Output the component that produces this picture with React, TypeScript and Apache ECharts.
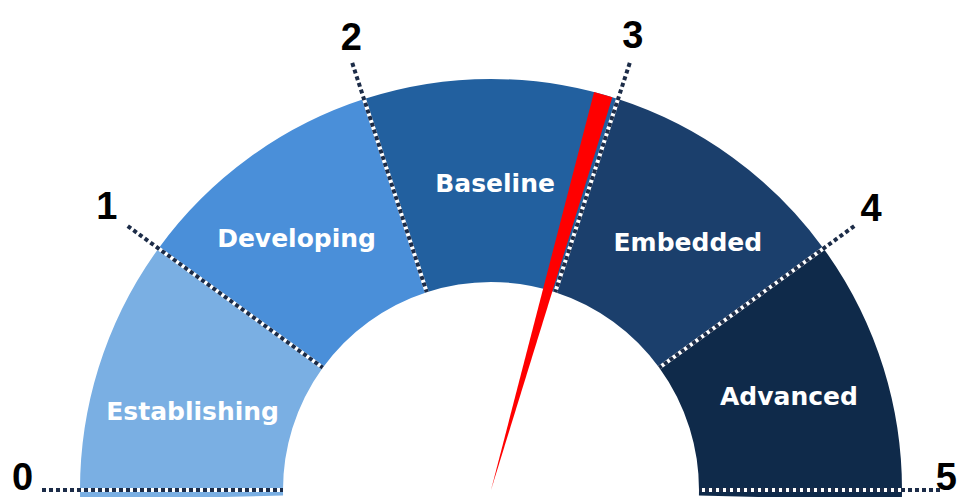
import React, { useEffect, useRef } from 'react';
import * as echarts from 'echarts';

// ---- data ----
const levels = ['Establishing', 'Developing', 'Baseline', 'Embedded', 'Advanced'];
const levelBounds = [0, 1, 2, 3, 4, 5];
const tickLabels = ['0', '1', '2', '3', '4', '5'];
const levelColors = ['#7aafe3', '#4a8fd9', '#22609f', '#1b3f6c', '#0f2a4a'];
const score = 2.94;

// ---- layout (kept apart from data) ----
const CX = 491;
const CY = 490;
const R = 411;
const R_IN = 208;
const EXT_DEG = 1.5;
const titleOffsets: [string, string][] = [
  ['-72.6%', '-19.1%'],
  ['-47.3%', '-61.3%'],
  ['1%', '-74.6%'],
  ['47.9%', '-60.1%'],
  ['72.5%', '-22.7%'],
];
// [top, right, bottom, left]
const tickPads = [
  [0, 0, 26, 20],
  [18, 0, 0, 9],
  [3, 0, 0, 29],
  [0, 25, 0, 0],
  [22, 13, 0, 0],
  [0, 33, 26, 0],
];
const LABEL_R = 519;

const MIN = levelBounds[0];
const MAX = levelBounds[levelBounds.length - 1];

export default function App() {
  const ref = useRef<HTMLDivElement>(null);
  useEffect(() => {
    if (!ref.current) return;
    const chart = echarts.init(ref.current, undefined, { renderer: 'svg' });
    const span = MAX - MIN;
    const ext = (EXT_DEG / 180) * span;
    const bMin = MIN - ext;
    const bMax = MAX + ext;
    const stops = levelColors.map((c, i) => [
      i === levelColors.length - 1 ? 1 : (levelBounds[i + 1] - bMin) / (bMax - bMin),
      c,
    ]);
    const hidden = {
      axisTick: { show: false },
      axisLabel: { show: false },
      splitLine: { show: false },
      pointer: { show: false },
      anchor: { show: false },
      detail: { show: false },
      title: { show: false },
    };
    const base = {
      type: 'gauge',
      center: [CX, CY],
      radius: R,
      startAngle: 180,
      endAngle: 0,
      min: MIN,
      max: MAX,
      splitNumber: levels.length,
      axisLine: { show: false, lineStyle: { width: 0 } },
    };
    const rich: any = {};
    tickLabels.forEach((t, i) => {
      rich['l' + i] = {
        fontSize: 38,
        fontWeight: 'bold',
        fontFamily: '"Liberation Sans", Arial, sans-serif',
        color: '#000',
        lineHeight: 40,
        padding: tickPads[i],
      };
    });
    chart.setOption({
      animation: false,
      backgroundColor: '#fff',
      series: [
        {
          ...base,
          ...hidden,
          z: 1,
          startAngle: 180 + EXT_DEG,
          endAngle: -EXT_DEG,
          min: bMin,
          max: bMax,
          axisLine: { show: true, lineStyle: { width: R - R_IN, color: stops } },
          data: [],
        },
        {
          ...base,
          ...hidden,
          z: 2,
          splitLine: {
            show: true,
            length: 241,
            distance: -38,
            lineStyle: { color: '#ffffff', width: 4 },
          },
          data: [],
        },
        {
          ...base,
          ...hidden,
          z: 3,
          splitLine: {
            show: true,
            length: 241,
            distance: -38,
            lineStyle: { color: '#1c2c48', width: 4, type: [4, 3] },
          },
          data: [],
        },
        {
          ...base,
          ...hidden,
          z: 4,
          axisLabel: {
            show: true,
            distance: R - LABEL_R,
            formatter: (v: number) => {
              const i = levelBounds.indexOf(Math.round(v));
              return `{l${i}|${tickLabels[i]}}`;
            },
            rich,
          },
          title: {
            show: true,
            color: '#ffffff',
            fontSize: 25,
            fontWeight: 'bold',
            fontFamily: '"DejaVu Sans", sans-serif',
          },
          data: levels.map((name, i) => ({
            value: levelBounds[i],
            name,
            title: { offsetCenter: titleOffsets[i] },
          })),
        },
        {
          ...base,
          ...hidden,
          z: 5,
          pointer: {
            show: true,
            icon: 'path://M0 0 L20 0 L10 100 Z',
            length: '100%',
            width: 19,
            itemStyle: { color: '#ff0000' },
          },
          data: [{ value: score }],
        },
      ],
    });
    return () => chart.dispose();
  }, []);
  return (
    <div
      ref={ref}
      style={{ position: 'fixed', left: 0, top: 0, width: 967, height: 497 }}
    />
  );
}
